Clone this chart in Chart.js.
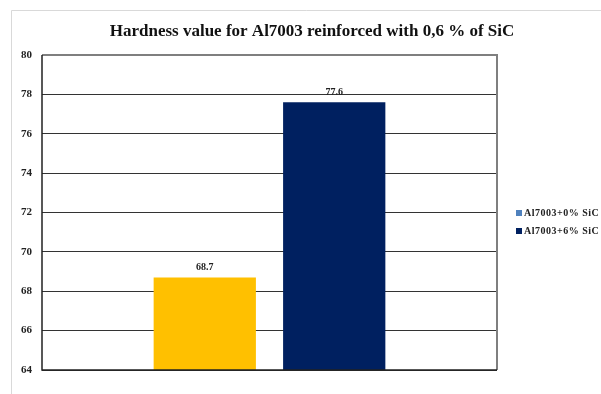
<!DOCTYPE html>
<html>
<head>
<meta charset="utf-8">
<script src="https://cdn.jsdelivr.net/npm/chart.js@4"></script>
<style>
  html, body { margin: 0; padding: 0; background: #fff; }
  #wrap { position: relative; width: 601px; height: 394px; }
</style>
</head>
<body>
<div id="wrap"><canvas id="c" width="601" height="394"></canvas></div>
<script>
const chartTitle = 'Hardness value for Al7003 reinforced with 0,6 % of SiC';
const categories = ['Hardness'];
const seriesLabels = ['Al7003+0% SiC', 'Al7003+6% SiC'];
const values0 = [68.7];
const values6 = [77.6];
const barColors = ['#FFC000', '#002060'];
const legendColors = ['#4F81BD', '#002060'];
const yTicks = [64, 66, 68, 70, 72, 74, 76, 78, 80];

const SERIF = "'Liberation Serif', 'Times New Roman', serif";

// Light frame around the whole chart, plot outline
const framePlugin = {
  id: 'frame',
  beforeDraw(chart) {
    const ctx = chart.ctx;
    ctx.save();
    ctx.fillStyle = '#fff';
    ctx.fillRect(0, 0, chart.width, chart.height);
    ctx.strokeStyle = '#d9d9d9';
    ctx.lineWidth = 1;
    ctx.beginPath();
    ctx.moveTo(11.5, chart.height + 5);
    ctx.lineTo(11.5, 10.5);
    ctx.lineTo(chart.width + 5, 10.5);
    ctx.stroke();
    ctx.restore();
  },
  afterDraw(chart) {
    const a = chart.chartArea;
    const ctx = chart.ctx;
    ctx.save();
    ctx.strokeStyle = '#7f7f7f';
    ctx.lineWidth = 2;
    ctx.beginPath();
    ctx.moveTo(a.left, a.top);
    ctx.lineTo(a.right, a.top);
    ctx.lineTo(a.right, a.bottom);
    ctx.stroke();
    ctx.strokeStyle = '#222';
    ctx.lineWidth = 1.5;
    ctx.beginPath();
    ctx.moveTo(a.left, a.top);
    ctx.lineTo(a.left, a.bottom);
    ctx.lineTo(a.right, a.bottom);
    ctx.stroke();
    ctx.restore();
  }
};

// Chart heading, centred over the whole figure
const headingPlugin = {
  id: 'heading',
  afterDraw(chart) {
    const ctx = chart.ctx;
    ctx.save();
    ctx.font = "bold 17px " + SERIF;
    ctx.fillStyle = '#111';
    ctx.textAlign = 'center';
    ctx.textBaseline = 'alphabetic';
    ctx.fillText(chartTitle, 312, 36);
    ctx.restore();
  }
};

// Value labels above each bar
const valueLabelPlugin = {
  id: 'valueLabels',
  afterDatasetsDraw(chart) {
    const ctx = chart.ctx;
    ctx.save();
    ctx.font = "bold 10px " + SERIF;
    ctx.fillStyle = '#222';
    ctx.textAlign = 'center';
    ctx.textBaseline = 'middle';
    chart.data.datasets.forEach((ds, i) => {
      chart.getDatasetMeta(i).data.forEach((bar, j) => {
        ctx.fillText(ds.data[j].toFixed(1), bar.x, bar.y - 10);
      });
    });
    ctx.restore();
  }
};

// Legend at the right of the plot
const sideLegendPlugin = {
  id: 'sideLegend',
  afterDraw(chart) {
    const ctx = chart.ctx;
    const a = chart.chartArea;
    ctx.save();
    ctx.font = "bold 10px " + SERIF;
    ctx.letterSpacing = '0.5px';
    ctx.textBaseline = 'middle';
    ctx.textAlign = 'left';
    const x = a.right + 19;
    const ys = [213, 231];
    chart.data.datasets.forEach((ds, i) => {
      ctx.fillStyle = legendColors[i];
      ctx.fillRect(x, ys[i] - 3, 6, 6);
      ctx.fillStyle = '#222';
      ctx.fillText(ds.label, x + 8, ys[i]);
    });
    ctx.restore();
  }
};

new Chart(document.getElementById('c'), {
  type: 'bar',
  data: {
    labels: categories,
    datasets: [
      { label: seriesLabels[0], data: values0, backgroundColor: barColors[0] },
      { label: seriesLabels[1], data: values6, backgroundColor: barColors[1] }
    ]
  },
  options: {
    responsive: false,
    animation: false,
    categoryPercentage: 0.569,
    barPercentage: 0.79,
    layout: { padding: { left: 12, right: 104, top: 55, bottom: 24 } },
    plugins: {
      legend: { display: false },
      tooltip: { enabled: false },
      title: { display: false }
    },
    scales: {
      x: {
        ticks: { display: false },
        grid: { display: false, drawTicks: false },
        border: { display: false }
      },
      y: {
        min: 64,
        max: 80,
        afterBuildTicks(scale) { scale.ticks = yTicks.map(v => ({ value: v })); },
        afterFit(scale) { scale.width = 30; },
        ticks: {
          color: '#222',
          padding: 10,
          font: { family: SERIF, size: 11, weight: 'bold' }
        },
        grid: { color: '#333', lineWidth: 1, drawTicks: false },
        border: { display: false }
      }
    }
  },
  plugins: [framePlugin, headingPlugin, valueLabelPlugin, sideLegendPlugin]
});
</script>
</body>
</html>
